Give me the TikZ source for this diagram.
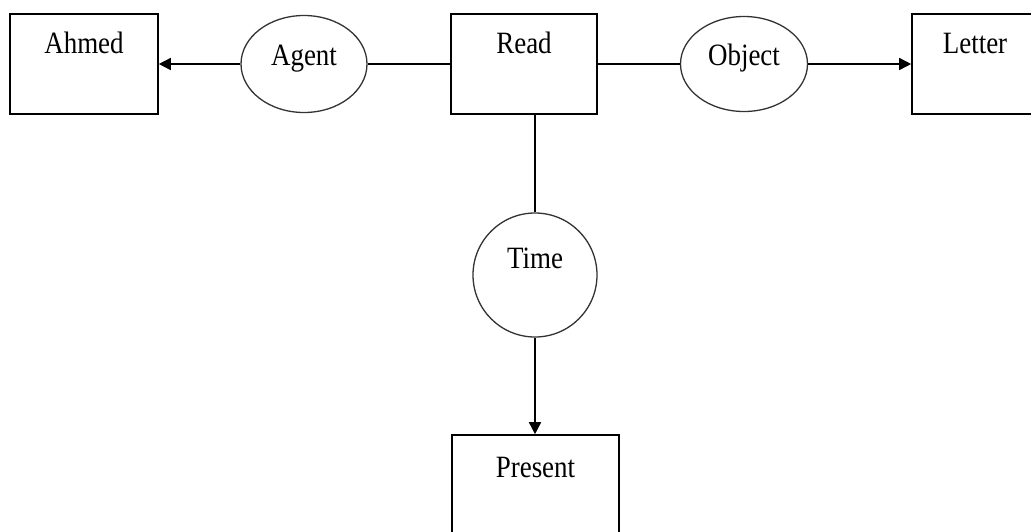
\documentclass[tikz,border=0pt]{standalone}
\usepackage{fontspec}
\setmainfont{Liberation Serif}[FakeStretch=0.87]
\usetikzlibrary{arrows.meta,shapes.geometric}
\begin{document}
\begin{tikzpicture}[x=1pt,y=-1pt,
  every node/.style={font=\fontsize{31}{36}\selectfont, text=black},
  concept/.style={draw, line width=1.6pt, rectangle, inner sep=0pt,
    minimum height=100pt, text height=39pt, text depth=61pt},
  relation/.style={draw=black!80, line width=1.3pt, ellipse, inner sep=0pt},
  link/.style={line width=1.6pt},
  arc/.style={line width=1.6pt, -{Triangle[length=12pt,width=12pt]}}]
  \clip (0,0) rectangle (1031,531);
  \fill[white] (0,0) rectangle (1031,531);

  % concept boxes
  \node[concept, minimum width=148pt] (ahmed) at (84,64) {Ahmed};
  \node[concept, minimum width=146pt] (read) at (524,64) {Read};
  \node[concept, minimum width=126pt] (letter) at (975,64) {Letter};
  \node[concept, minimum width=167pt, text height=42pt, text depth=58pt] (present) at (535.5,485) {Present};

  % relation ellipses
  \node[relation, minimum width=126pt, minimum height=97pt, text height=24pt, text depth=21pt] (agent) at (304,64) {Agent};
  \node[relation, minimum width=127pt, minimum height=95pt, text height=24pt, text depth=22pt] (object) at (744,64) {Object};
  \node[relation, circle, minimum size=124pt, text height=22pt, text depth=36pt] (time) at (535,275) {Time};

  % connectors
  \draw[arc] (agent) -- (ahmed);
  \draw[link] (read) -- (agent);
  \draw[link] (read) -- (object);
  \draw[arc] (object) -- (letter);
  \draw[link] (time.north |- read.south) -- (time.north);
  \draw[arc] (time.south) -- (time.south |- present.north);
\end{tikzpicture}
\end{document}
